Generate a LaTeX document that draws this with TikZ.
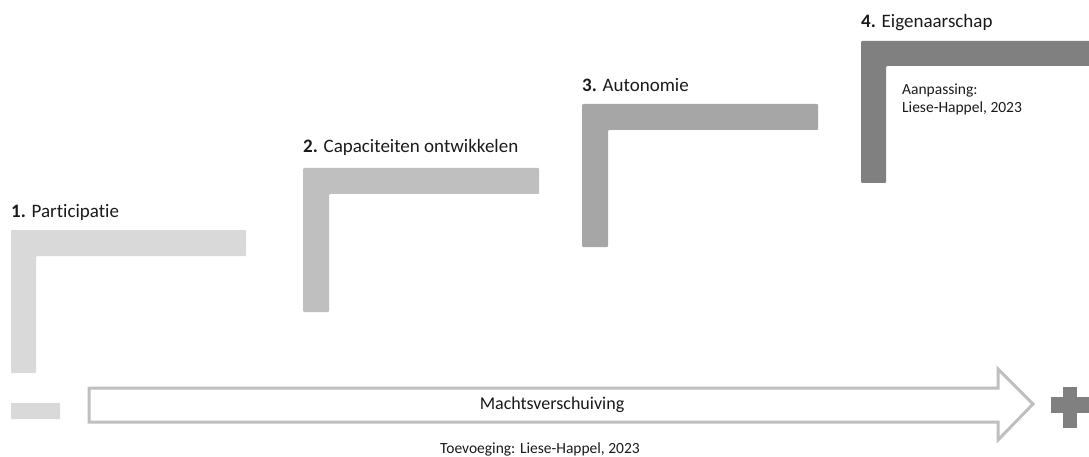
\documentclass[tikz,border=0pt]{standalone}
\usepackage{fontspec}
\setmainfont{Carlito}[Ligatures=NoCommon]
\definecolor{cA}{HTML}{D9D9D9}
\definecolor{cB}{HTML}{BFBFBF}
\definecolor{cC}{HTML}{A6A6A6}
\definecolor{cD}{HTML}{808080}
\definecolor{txt}{HTML}{1A1A1A}
\tikzset{
  lbl/.style={anchor=base west, inner sep=0pt, text=txt, font=\fontsize{19}{23}\selectfont},
  small/.style={inner sep=0pt, text=txt, font=\fontsize{15.5}{18}\selectfont},
  stair/.style={rounded corners=1pt, draw=none},
  arrowshape/.style={draw=cB, line width=3pt, fill=white, line join=miter},
}
\begin{document}
\begin{tikzpicture}[x=1pt,y=-1pt]
\useasboundingbox (0,0) rectangle (1089,457);
% stairs
\fill[stair,cA] (11,230) -- (246,230) -- (246,256) -- (36,256) -- (36,373) -- (11,373) -- cycle;
\fill[stair,cB] (303,168) -- (539,168) -- (539,194) -- (329,194) -- (329,312) -- (303,312) -- cycle;
\fill[stair,cC] (582,104) -- (818,104) -- (818,130) -- (608,130) -- (608,247) -- (582,247) -- cycle;
\fill[stair,cD] (861,41) -- (1096,41) -- (1096,66) -- (886,66) -- (886,183) -- (861,183) -- cycle;
% labels
\node[lbl] (l1) at (11,218) {\textbf{1.} Participatie};
\node[lbl] (l2) at (303,153) {\textbf{2.} Capaciteiten ontwikkelen};
\node[lbl] (l3) at (582,92) {\textbf{3.} Autonomie};
\node[lbl] (l4) at (861,28) {\textbf{4.} Eigenaarschap};
\node[small, anchor=base west, align=left] (src) at (902,113) {Aanpassing:\\Liese-Happel, 2023};
% minus
\fill[cA, rounded corners=0.5pt] (11,403) rectangle (60,419);
% arrow
\draw[arrowshape] (89,388) -- (998,388) -- (998,369) -- (1033,404) -- (998,440) -- (998,422) -- (89,422) -- cycle;
\node[inner sep=0pt, text=txt, font=\fontsize{18}{22}\selectfont] (m) at (552,405) {Machtsverschuiving};
% plus
\fill[cD] (1051,397) rectangle (1089,413);
\fill[cD] (1063,387) rectangle (1077,428);
\node[small] (tv) at (540,449) {Toevoeging: Liese-Happel, 2023};
\end{tikzpicture}
\end{document}
